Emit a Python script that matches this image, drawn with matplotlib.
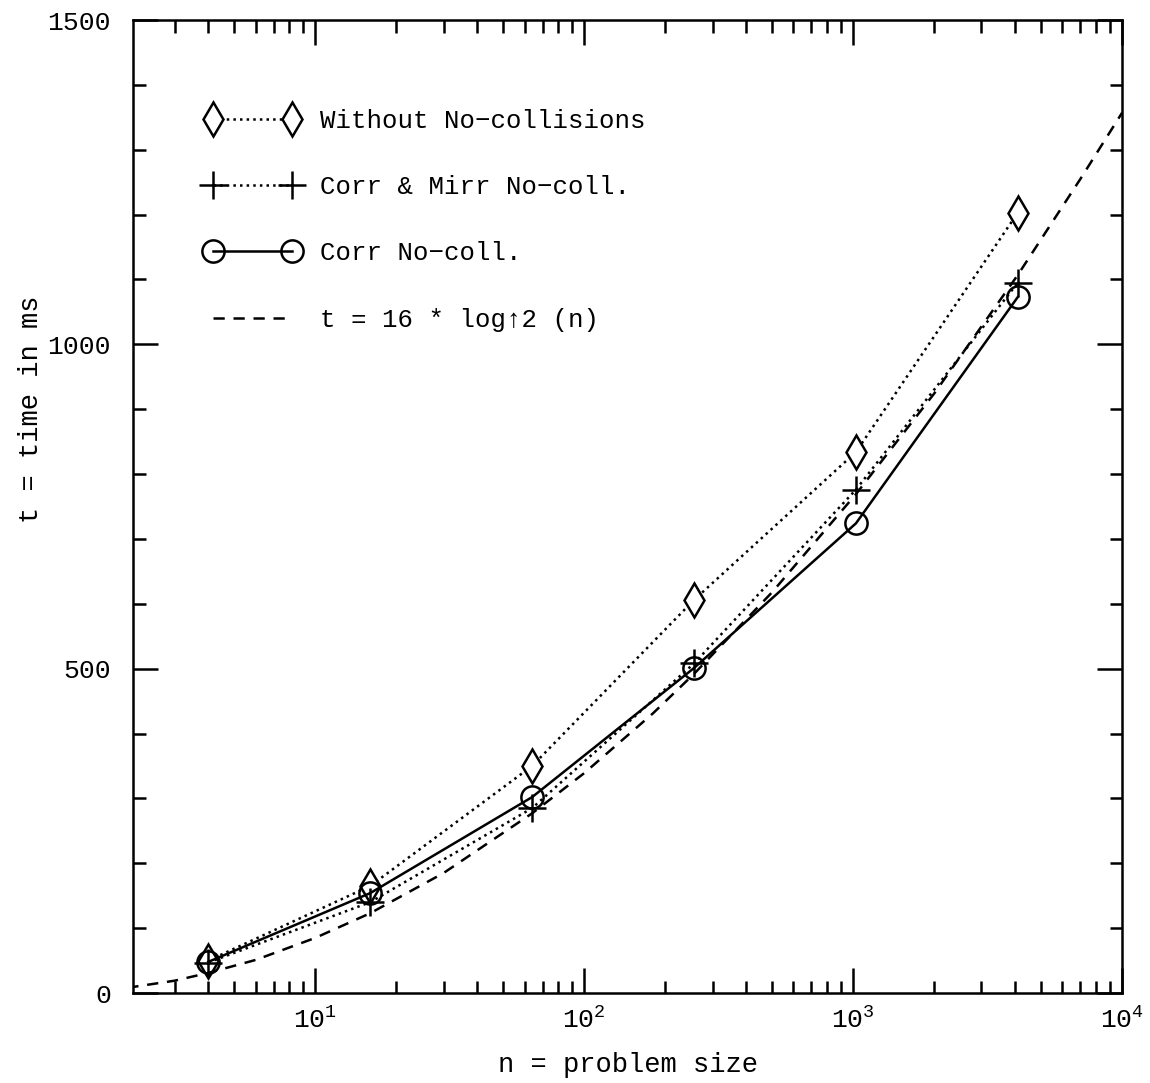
import matplotlib
matplotlib.use("Agg")
import matplotlib.pyplot as plt
from matplotlib.ticker import LogLocator, MultipleLocator, LogFormatterMathtext, NullFormatter

plt.rcParams['font.family'] = ['Liberation Mono', 'DejaVu Sans Mono']
plt.rcParams['mathtext.fontset'] = 'custom'
plt.rcParams['mathtext.rm'] = 'Liberation Mono'
plt.rcParams['mathtext.it'] = 'Liberation Mono'
plt.rcParams['mathtext.bf'] = 'Liberation Mono:bold'

# ---- data ----
n_sizes = [4, 16, 64, 256, 1024, 4096]
t_without = [50, 165, 350, 606, 834, 1203]
t_corr_mirr = [47, 140, 285, 508, 776, 1095]
t_corr = [48, 154, 302, 501, 724, 1073]

# dashed reference curve t = 16 * log^2(n)
ref_n = [2, 3, 4, 6, 10, 16, 30, 64, 100, 180, 256, 500, 1024, 2000, 4096, 7000, 10000]
ref_t = [8, 19, 31, 51, 85, 123, 185, 277, 339, 431, 492, 618, 769, 924, 1107, 1255, 1357]

labels = ["Without No\u2212collisions", "Corr & Mirr No\u2212coll.",
          "Corr No\u2212coll.", "t = 16 * log\u21912 (n)"]

fig = plt.figure(figsize=(11.5, 10.83), dpi=100)
ax = fig.add_axes([0.1157, 0.0831, 0.86, 0.8984])

ax.plot(n_sizes, t_without, color='black', linestyle=':', linewidth=1.8,
        marker='d', markersize=17, markerfacecolor='white', markeredgewidth=1.8,
        label=labels[0])
ax.plot(n_sizes, t_corr_mirr, color='black', linestyle=':', linewidth=1.8,
        marker='+', markersize=20, markeredgewidth=1.8, label=labels[1])
ax.plot(n_sizes, t_corr, color='black', linestyle='-', linewidth=1.8,
        marker='o', markersize=16, markerfacecolor='none', markeredgewidth=1.8,
        label=labels[2])
ax.plot(ref_n, ref_t, color='black', linestyle=(0, (4.5, 3.5)), linewidth=1.8,
        label=labels[3])

ax.set_xscale('log')
ax.set_xlim(2.1, 10000)
ax.set_ylim(0, 1500)

ax.xaxis.set_major_locator(LogLocator(base=10, numticks=10))
ax.xaxis.set_minor_locator(LogLocator(base=10, subs=range(2, 10), numticks=20))
ax.xaxis.set_major_formatter(LogFormatterMathtext())
ax.xaxis.set_minor_formatter(NullFormatter())
ax.yaxis.set_major_locator(MultipleLocator(500))
ax.yaxis.set_minor_locator(MultipleLocator(100))

ax.tick_params(which='both', direction='in', top=True, right=True,
               width=1.8, labelsize=19)
ax.tick_params(which='major', length=18)
ax.tick_params(which='minor', length=9)
ax.tick_params(axis='y', which='major', pad=16)
ax.tick_params(axis='x', which='major', pad=10)

for s in ax.spines.values():
    s.set_linewidth(1.8)

ax.set_xlabel("n = problem size", fontsize=19.5, labelpad=14)
ax.set_ylabel("t = time in ms", fontsize=19.5)
ax.yaxis.set_label_coords(-0.09, 0.6)

leg = ax.legend(loc='upper left', bbox_to_anchor=(0.063, 0.919), frameon=False,
                fontsize=18.5, numpoints=2, handlelength=3.67, handletextpad=0.79,
                labelspacing=1.64, borderaxespad=0)

fig.savefig("out.png", dpi=100)
